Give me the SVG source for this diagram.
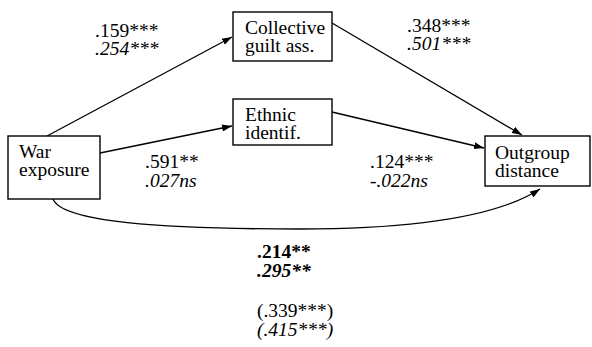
<svg xmlns="http://www.w3.org/2000/svg" width="592" height="347" viewBox="0 0 592 347">
<style>
.box{fill:#fff;stroke:#000;stroke-width:1.4}
.t{font-family:"Liberation Serif","Times New Roman",serif;font-size:19.5px;fill:#000}
.i{font-style:italic}
.b{font-weight:bold}
.c{fill:none;stroke:#000;stroke-width:1.3}
</style>
<defs>
<marker id="ah" markerUnits="userSpaceOnUse" markerWidth="11" markerHeight="8" refX="10" refY="4" orient="auto">
<path d="M0,0.5 L10,4 L0,7.5 z" fill="#000"/>
</marker>
</defs>
<rect width="592" height="347" fill="#fff"/>
<g id="connectors">
<line class="c" x1="47" y1="136" x2="232" y2="37" marker-end="url(#ah)"/>
<line class="c" x1="100" y1="153" x2="232" y2="126" marker-end="url(#ah)"/>
<line class="c" x1="332" y1="23" x2="522" y2="135" marker-end="url(#ah)"/>
<line class="c" x1="332" y1="112" x2="484" y2="148" marker-end="url(#ah)"/>
<path class="c" d="M53,199 C62,222 160,229 300,229 C420,229 500,215 540,189" marker-end="url(#ah)"/>
</g>
<g id="war">
<rect class="box" x="8" y="136" width="92" height="63"/>
<text class="t" x="19" y="158">War</text>
<text class="t" x="19" y="176">exposure</text>
</g>
<g id="collective">
<rect class="box" x="233" y="12" width="99" height="49"/>
<text class="t" x="245" y="34">Collective</text>
<text class="t" x="245" y="52">guilt ass.</text>
</g>
<g id="ethnic">
<rect class="box" x="233" y="99" width="99" height="46"/>
<text class="t" x="245" y="121">Ethnic</text>
<text class="t" x="245" y="139">identif.</text>
</g>
<g id="outgroup">
<rect class="box" x="485" y="136" width="105" height="50"/>
<text class="t" x="495" y="159">Outgroup</text>
<text class="t" x="495" y="177">distance</text>
</g>
<g id="labels">
<text class="t" x="95" y="37">.159***</text>
<text class="t i" x="95" y="55">.254***</text>
<text class="t" x="407" y="32">.348***</text>
<text class="t i" x="407" y="50">.501***</text>
<text class="t" x="145" y="168">.591**</text>
<text class="t i" x="145" y="187">.027ns</text>
<text class="t" x="370" y="168">.124***</text>
<text class="t i" x="370" y="187">-.022ns</text>
<text class="t b" x="257" y="258">.214**</text>
<text class="t b i" x="257" y="277">.295**</text>
<text class="t" x="257" y="317">(.339***)</text>
<text class="t i" x="257" y="336">(.415***)</text>
</g>
</svg>
